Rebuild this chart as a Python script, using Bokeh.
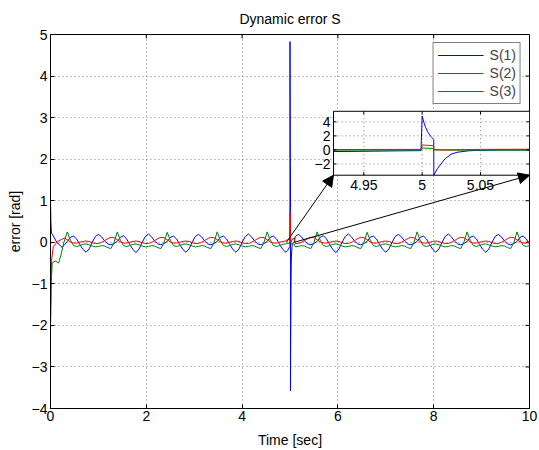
import numpy as np
from bokeh.plotting import figure
from bokeh.models import Range1d, FixedTicker, Legend, LegendItem, Arrow, NormalHead
from bokeh.embed import file_html
from bokeh.resources import INLINE
from bokeh.core.properties import value

# ---------------- data ----------------
title_text = "Dynamic error S"
x_label = "Time [sec]"
y_label = "error [rad]"
series_names = ["S(1)", "S(2)", "S(3)"]
series_colors = ["#0000ff", "#008000", "#ff0000"]

x_ticks = [0, 2, 4, 6, 8, 10]
y_ticks = [-4, -3, -2, -1, 0, 1, 2, 3, 4, 5]

# regular samples, t = 0.35 s ... 10 s
grid_start, grid_end = 0.35, 10.0
s1_grid = [
    0.02, 0.12, 0.15, 0.08, -0.05, -0.17, -0.24, -0.16, 0.00, 0.14, 0.19, 0.13, 0.03, -0.04, -0.06, -0.03,
    0.02, 0.12, 0.16, 0.08, -0.05, -0.17, -0.25, -0.16, 0.00, 0.14, 0.20, 0.13, 0.03, -0.04, -0.06, -0.03,
    0.02, 0.12, 0.15, 0.08, -0.05, -0.17, -0.24, -0.16, 0.00, 0.14, 0.19, 0.13, 0.03, -0.04, -0.06, -0.03,
    0.02, 0.12, 0.15, 0.08, -0.05, -0.17, -0.24, -0.16, 0.00, 0.14, 0.20, 0.13, 0.03, -0.04, -0.06, -0.03,
    0.02, 0.12, 0.15, 0.08, -0.05, -0.17, -0.24, -0.16, 0.00, 0.14, 0.19, 0.13, 0.03, -0.04, -0.06, -0.03,
    0.02, 0.12, 0.16, 0.08, -0.05, -0.17, -0.25, -0.16, 0.00, 0.14, 0.20, 0.13, 0.03, -0.04, -0.06, -0.03,
    0.02, 0.12, 0.15, 0.08, -0.05, -0.17, -0.24, -0.16, 0.00, 0.14, 0.19, 0.13, 0.03, -0.04, -0.06, -0.03,
    0.02, 0.12, 0.15, 0.08, -0.05, -0.17, -0.24, -0.16, 0.00, 0.14, 0.20, 0.13, 0.03, -0.04, -0.06, -0.03,
    0.02, 0.12, 0.15, 0.08, -0.05, -0.17, -0.24, -0.16, 0.00, 0.14, 0.19, 0.13, 0.03, -0.04, -0.06, -0.03,
    0.02, 0.12, 0.15, 0.08, -0.05,
]
s2_grid = [
    0.25, 0.05, -0.08, -0.10, -0.08, -0.05, -0.04, -0.06, -0.09, -0.11, -0.10, -0.08, -0.09, -0.13, -0.15, 0.00,
    0.25, 0.05, -0.08, -0.10, -0.08, -0.05, -0.04, -0.06, -0.09, -0.11, -0.10, -0.08, -0.09, -0.13, -0.15, 0.00,
    0.24, 0.05, -0.08, -0.10, -0.08, -0.05, -0.04, -0.06, -0.09, -0.11, -0.10, -0.08, -0.09, -0.13, -0.15, 0.00,
    0.25, 0.05, -0.08, -0.10, -0.08, -0.05, -0.04, -0.06, -0.09, -0.11, -0.10, -0.08, -0.09, -0.13, -0.15, 0.00,
    0.25, 0.05, -0.08, -0.10, -0.08, -0.05, -0.04, -0.06, -0.09, -0.11, -0.10, -0.08, -0.09, -0.13, -0.15, 0.00,
    0.25, 0.05, -0.08, -0.10, -0.08, -0.05, -0.04, -0.06, -0.09, -0.11, -0.10, -0.08, -0.09, -0.13, -0.15, 0.00,
    0.24, 0.05, -0.08, -0.10, -0.08, -0.05, -0.04, -0.06, -0.09, -0.11, -0.10, -0.08, -0.09, -0.13, -0.15, 0.00,
    0.25, 0.05, -0.08, -0.10, -0.08, -0.05, -0.04, -0.06, -0.09, -0.11, -0.10, -0.08, -0.09, -0.13, -0.15, 0.00,
    0.25, 0.05, -0.08, -0.10, -0.08, -0.05, -0.04, -0.06, -0.09, -0.11, -0.10, -0.08, -0.09, -0.13, -0.15, 0.00,
    0.25, 0.05, -0.08, -0.10, -0.08,
]
s3_grid = [
    0.06, 0.01, -0.02, -0.02, 0.00, 0.02, 0.03, 0.02, -0.01, -0.03, -0.03, 0.00, 0.04, 0.09, 0.12, 0.11,
    0.06, 0.01, -0.02, -0.02, 0.00, 0.02, 0.03, 0.02, -0.01, -0.03, -0.03, 0.00, 0.04, 0.09, 0.12, 0.11,
    0.06, 0.01, -0.02, -0.02, 0.00, 0.02, 0.03, 0.02, -0.01, -0.03, -0.03, 0.00, 0.04, 0.09, 0.12, 0.11,
    0.06, 0.01, -0.02, -0.02, 0.00, 0.02, 0.03, 0.02, -0.01, -0.03, -0.03, 0.00, 0.04, 0.09, 0.12, 0.11,
    0.06, 0.01, -0.02, -0.02, 0.00, 0.02, 0.03, 0.02, -0.01, -0.03, -0.03, 0.00, 0.04, 0.09, 0.12, 0.11,
    0.06, 0.01, -0.02, -0.02, 0.00, 0.02, 0.03, 0.02, -0.01, -0.03, -0.03, 0.00, 0.04, 0.09, 0.12, 0.11,
    0.06, 0.01, -0.02, -0.02, 0.00, 0.02, 0.03, 0.02, -0.01, -0.03, -0.03, 0.00, 0.04, 0.09, 0.12, 0.11,
    0.06, 0.01, -0.02, -0.02, 0.00, 0.02, 0.03, 0.02, -0.01, -0.03, -0.03, 0.00, 0.04, 0.09, 0.12, 0.11,
    0.06, 0.01, -0.02, -0.02, 0.00, 0.02, 0.03, 0.02, -0.01, -0.03, -0.03, 0.00, 0.04, 0.09, 0.12, 0.11,
    0.06, 0.01, -0.02, -0.02, 0.00,
]

# start-up transient (t < 0.35 s)
s1_start_t = [0.0, 0.008, 0.02, 0.06, 0.13, 0.24, 0.30]
s1_start_v = [1.0, 0.5, 0.22, 0.15, 0.0, -0.12, -0.05]
s2_start_t = [0.0, 0.015, 0.035, 0.10, 0.17, 0.22, 0.28]
s2_start_v = [-1.95, -1.0, -0.5, -0.45, -0.5, -0.3, 0.0]
s3_start_t = [0.0, 0.01, 0.025, 0.06, 0.15, 0.25, 0.30]
s3_start_v = [-2.05, -1.2, -0.4, -0.1, 0.02, 0.08, 0.10]

# disturbance at t = 5 s (also the zoomed window)
s1_spike_t = [4.924, 4.95, 4.975, 4.999, 5.0, 5.0015, 5.003, 5.005, 5.0075, 5.0099, 5.01,
              5.013, 5.016, 5.02, 5.025, 5.03, 5.04, 5.05, 5.07, 5.092]
s1_spike_v = [-0.23, -0.20, -0.14, -0.10, 4.83, 3.9, 3.2, 2.5, 1.9, 1.5, -3.58,
              -2.7, -2.0, -1.2, -0.6, -0.33, -0.12, -0.05, 0.0, 0.02]
s2_spike_t = [4.924, 4.999, 5.0, 5.0099, 5.01, 5.03, 5.092]
s2_spike_v = [-0.03, -0.02, 0.28, 0.20, 0.0, -0.03, -0.05]
s3_spike_t = [4.924, 4.999, 5.0, 5.002, 5.0099, 5.01, 5.02, 5.05, 5.092]
s3_spike_v = [0.05, 0.08, 0.72, 0.68, 0.60, 0.05, 0.0, 0.08, 0.10]

inset_x_ticks = [4.95, 5.0, 5.05]
inset_x_labels = ["4.95", "5", "5.05"]
inset_y_ticks = [-2, 0, 2, 4]
inset_y_labels = ["\u22122", "0", "2", "4"]

# ---------------- layout constants ----------------
FONT = "Liberation Sans"
FS = "14px"
W, H = 539, 450
MB_L, MB_R, MB_T, MB_B = 50, 10, 34, 41
FRAME_W = W - MB_L - MB_R
FRAME_H = H - MB_T - MB_B
X_RANGE = (0.0, 10.0)
Y_RANGE = (-4.0, 5.0)
INSET_X = (4.924, 5.092)          # zoomed data window
INSET_Y = (-3.6, 5.5)
INSET_BOX_X = (5.908, 10.0)       # where the inset sits, in main data units
INSET_BOX_Y = (1.614, 3.152)
TICK = 4


def build(start_t, start_v, grid_v, spike_t, spike_v):
    tg = np.linspace(grid_start, grid_end, len(grid_v))
    gv = np.asarray(grid_v)
    keep = (tg < spike_t[0]) | (tg > spike_t[-1])
    t = np.concatenate([start_t, tg[keep], spike_t])
    v = np.concatenate([start_v, gv[keep], spike_v])
    order = np.argsort(t, kind="stable")
    return t[order], v[order]


series = [
    build(s1_start_t, s1_start_v, s1_grid, s1_spike_t, s1_spike_v),
    build(s2_start_t, s2_start_v, s2_grid, s2_spike_t, s2_spike_v),
    build(s3_start_t, s3_start_v, s3_grid, s3_spike_t, s3_spike_v),
]
inset_series = [(s1_spike_t, s1_spike_v), (s2_spike_t, s2_spike_v), (s3_spike_t, s3_spike_v)]

p = figure(width=W, height=H, x_range=Range1d(*X_RANGE), y_range=Range1d(*Y_RANGE),
           output_backend="svg", toolbar_location=None,
           min_border_left=MB_L, min_border_right=MB_R, min_border_top=MB_T, min_border_bottom=MB_B,
           title=title_text)
p.background_fill_color = "white"
p.border_fill_color = "white"
p.outline_line_color = "black"
p.outline_line_width = 1

p.title.align = "center"
p.title.text_font = FONT
p.title.text_font_size = FS
p.title.text_font_style = "normal"
p.title.text_color = "black"
p.title.standoff = 15

minus = lambda v: ("\u2212%d" % -v) if v < 0 else "%d" % v
p.xaxis.ticker = FixedTicker(ticks=x_ticks)
p.yaxis.ticker = FixedTicker(ticks=y_ticks)
p.yaxis.major_label_overrides = {v: minus(v) for v in y_ticks}
p.xaxis.axis_label = x_label
p.yaxis.axis_label = y_label
for ax in (p.xaxis[0], p.yaxis[0]):
    ax.major_tick_in = TICK
    ax.major_tick_out = 0
    ax.minor_tick_line_color = None
    ax.axis_line_color = "black"
    ax.major_tick_line_color = "black"
    ax.major_label_text_font = FONT
    ax.major_label_text_font_size = FS
    ax.major_label_text_color = "black"
    ax.axis_label_text_font = FONT
    ax.axis_label_text_font_size = FS
    ax.axis_label_text_font_style = "normal"
    ax.axis_label_text_color = "black"
p.xaxis.major_label_standoff = 2
p.xaxis.axis_label_standoff = 8
p.yaxis.major_label_standoff = 3
p.yaxis.axis_label_standoff = 6

p.xgrid.ticker = FixedTicker(ticks=x_ticks)
p.ygrid.ticker = FixedTicker(ticks=y_ticks)
for g in (p.xgrid[0], p.ygrid[0]):
    g.grid_line_color = "black"
    g.grid_line_alpha = 0.5
    g.grid_line_dash = "1 3"
    g.grid_line_width = 1

# inward ticks on the top and right edges of the box
mx = (X_RANGE[1] - X_RANGE[0]) / FRAME_W
my = (Y_RANGE[1] - Y_RANGE[0]) / FRAME_H
p.segment(x0=x_ticks, x1=x_ticks, y0=[Y_RANGE[1]] * len(x_ticks),
          y1=[Y_RANGE[1] - TICK * my] * len(x_ticks), line_color="black", line_width=1)
p.segment(x0=[X_RANGE[1]] * len(y_ticks), x1=[X_RANGE[1] - TICK * mx] * len(y_ticks),
          y0=y_ticks, y1=y_ticks, line_color="black", line_width=1)

renderers = []
for (t, v), c in zip(series, series_colors):
    renderers.append(p.line(t, v, line_color=c, line_width=1))

# ---------------- inset (extra ranges mapped onto the inset box) ----------------
fx0 = (INSET_BOX_X[0] - X_RANGE[0]) / (X_RANGE[1] - X_RANGE[0])
fx1 = (INSET_BOX_X[1] - X_RANGE[0]) / (X_RANGE[1] - X_RANGE[0])
fy0 = (INSET_BOX_Y[0] - Y_RANGE[0]) / (Y_RANGE[1] - Y_RANGE[0])
fy1 = (INSET_BOX_Y[1] - Y_RANGE[0]) / (Y_RANGE[1] - Y_RANGE[0])
spx = (INSET_X[1] - INSET_X[0]) / (fx1 - fx0)
spy = (INSET_Y[1] - INSET_Y[0]) / (fy1 - fy0)
ix0 = INSET_X[0] - fx0 * spx
iy0 = INSET_Y[0] - fy0 * spy
p.extra_x_ranges = {"ix": Range1d(ix0, ix0 + spx)}
p.extra_y_ranges = {"iy": Range1d(iy0, iy0 + spy)}
kw = dict(x_range_name="ix", y_range_name="iy")
ux = spx / FRAME_W   # inset data units per pixel
uy = spy / FRAME_H

p.quad(left=[INSET_X[0]], right=[INSET_X[1]], bottom=[INSET_Y[0]], top=[INSET_Y[1]],
       fill_color="white", line_color=None, **kw)
p.segment(x0=inset_x_ticks, x1=inset_x_ticks, y0=[INSET_Y[0]] * 3, y1=[INSET_Y[1]] * 3,
          line_color="black", line_alpha=0.5, line_dash="1 3", line_width=1, **kw)
p.segment(x0=[INSET_X[0]] * 4, x1=[INSET_X[1]] * 4, y0=inset_y_ticks, y1=inset_y_ticks,
          line_color="black", line_alpha=0.5, line_dash="1 3", line_width=1, **kw)
for (t, v), c in zip(inset_series, series_colors):
    p.line(t, v, line_color=c, line_width=1, **kw)
tl = 3
p.segment(x0=inset_x_ticks, x1=inset_x_ticks, y0=[INSET_Y[0]] * 3, y1=[INSET_Y[0] + tl * uy] * 3,
          line_color="black", **kw)
p.segment(x0=inset_x_ticks, x1=inset_x_ticks, y0=[INSET_Y[1]] * 3, y1=[INSET_Y[1] - tl * uy] * 3,
          line_color="black", **kw)
p.segment(x0=[INSET_X[0]] * 4, x1=[INSET_X[0] + tl * ux] * 4, y0=inset_y_ticks, y1=inset_y_ticks,
          line_color="black", **kw)
p.segment(x0=[INSET_X[1]] * 4, x1=[INSET_X[1] - tl * ux] * 4, y0=inset_y_ticks, y1=inset_y_ticks,
          line_color="black", **kw)
p.quad(left=[INSET_X[0]], right=[INSET_X[1]], bottom=[INSET_Y[0]], top=[INSET_Y[1]],
       fill_color=None, line_color="black", line_width=1, **kw)
p.text(x=inset_x_ticks, y=[INSET_Y[0]] * 3, text=inset_x_labels, y_offset=5,
       text_align="center", text_baseline="top", text_font=value(FONT),
       text_font_size=FS, text_color="black", **kw)
p.text(x=[INSET_X[0]] * 4, y=inset_y_ticks, text=inset_y_labels, x_offset=-3,
       text_align="right", text_baseline="middle", text_font=value(FONT),
       text_font_size=FS, text_color="black", **kw)

# arrows from the zoomed window to the inset corners
for xs, xe in ((INSET_X[0], INSET_BOX_X[0]), (INSET_X[1], INSET_BOX_X[1])):
    p.add_layout(Arrow(end=NormalHead(size=11, fill_color="black", line_color="black"),
                       x_start=xs, y_start=0.0, x_end=xe, y_end=INSET_BOX_Y[0],
                       line_color="black", line_width=1))

legend = Legend(items=[LegendItem(label=n, renderers=[r]) for n, r in zip(series_names, renderers)],
                location="top_right")
legend.label_text_font = FONT
legend.label_text_font_size = FS
legend.label_height = 16
legend.glyph_height = 16
legend.glyph_width = 46
legend.label_standoff = 6
legend.spacing = 2
legend.padding = 4
legend.margin = 8
legend.border_line_color = "black"
legend.border_line_width = 1
legend.background_fill_alpha = 1.0
p.add_layout(legend)

open("out.html", "w").write(file_html(p, INLINE))
